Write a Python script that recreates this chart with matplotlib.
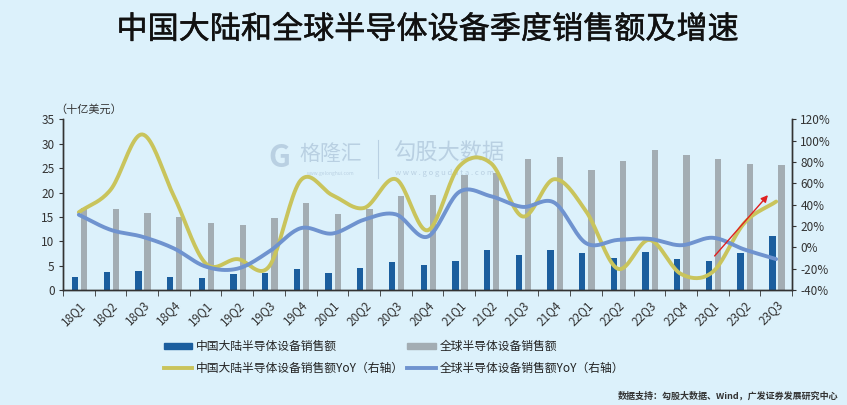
import matplotlib
matplotlib.use("Agg")
import matplotlib.pyplot as plt
import matplotlib.patheffects as pe
from matplotlib.patches import Patch
from matplotlib.lines import Line2D
import numpy as np

plt.rcParams['font.family'] = ['Noto Sans CJK SC', 'DejaVu Sans']

# data
quarters = ['18Q1', '18Q2', '18Q3', '18Q4', '19Q1', '19Q2', '19Q3', '19Q4',
            '20Q1', '20Q2', '20Q3', '20Q4', '21Q1', '21Q2', '21Q3', '21Q4',
            '22Q1', '22Q2', '22Q3', '22Q4', '23Q1', '23Q2', '23Q3']
china_sales = [2.7, 3.75, 3.96, 2.7, 2.4, 3.3, 3.42, 4.3, 3.42, 4.57, 5.67, 5.06,
               5.94, 8.2, 7.24, 8.13, 7.5, 6.5, 7.8, 6.35, 5.94, 7.5, 11.0]
global_sales = [16.9, 16.7, 15.9, 15.0, 13.8, 13.3, 14.8, 17.8, 15.6, 16.7, 19.3, 19.5,
                23.6, 24.1, 26.8, 27.3, 24.7, 26.4, 28.8, 27.7, 26.8, 25.8, 25.6]
china_yoy = [33, 54, 106, 48, -15, -11, -18, 63, 49, 37, 64, 16,
             76, 79, 29, 64, 34, -20, 7, -25, -23, 23, 43]
global_yoy = [30.6, 16.5, 10, -1, -18, -20, -4, 18, 13, 26, 31, 10,
              52, 48, 38, 42, 4, 7, 8, 2, 9, -2, -11]

left_ticks = [0, 5, 10, 15, 20, 25, 30, 35]
right_ticks = [-40, -20, 0, 20, 40, 60, 80, 100, 120]

# red trend arrow (start/end in category index, percent)
arrow_start = (20.0, -10)
arrow_end = (21.8, 51)

BG = '#dcf1fb'
C_CHINA = '#1b5e9e'
C_GLOBAL = '#a3adb3'
C_CHINA_YOY = '#c9c45c'
C_GLOBAL_YOY = '#6f93cf'


def smooth(xs, ys, n=20):
    # Catmull-Rom style smoothing, like the spreadsheet "smooth line"
    xs = np.asarray(xs, float)
    ys = np.asarray(ys, float)
    px = np.concatenate([[2 * xs[0] - xs[1]], xs, [2 * xs[-1] - xs[-2]]])
    py = np.concatenate([[2 * ys[0] - ys[1]], ys, [2 * ys[-1] - ys[-2]]])
    ox, oy = [], []
    t = np.linspace(0, 1, n, endpoint=False)
    for i in range(1, len(px) - 2):
        for p, out in ((px, ox), (py, oy)):
            p0, p1, p2, p3 = p[i - 1], p[i], p[i + 1], p[i + 2]
            out.extend(0.5 * ((2 * p1) + (-p0 + p2) * t +
                              (2 * p0 - 5 * p1 + 4 * p2 - p3) * t ** 2 +
                              (-p0 + 3 * p1 - 3 * p2 + p3) * t ** 3))
    ox.append(xs[-1])
    oy.append(ys[-1])
    return np.array(ox), np.array(oy)


fig = plt.figure(figsize=(8.47, 4.05), dpi=100, facecolor=BG)
ax = fig.add_axes([63 / 847, 1 - 290 / 405, (792 - 63) / 847, (290 - 119.5) / 405])
ax.set_facecolor('none')
ax2 = ax.twinx()
ax2.set_facecolor('none')

x = np.arange(len(quarters))
ax.bar(x - 0.12, china_sales, width=0.2, color=C_CHINA, zorder=2)
ax.bar(x + 0.17, global_sales, width=0.2, color=C_GLOBAL, zorder=2)

sx, sy = smooth(x, china_yoy)
ax2.plot(sx, sy, color=C_CHINA_YOY, lw=2.8, solid_capstyle='round', zorder=3)
sx, sy = smooth(x, global_yoy)
ax2.plot(sx, sy, color=C_GLOBAL_YOY, lw=2.8, solid_capstyle='round', zorder=3)

ax2.annotate('', xy=arrow_end, xytext=arrow_start,
             arrowprops=dict(arrowstyle='-|>', color='#e02020', lw=1.0,
                             mutation_scale=10))

ax.set_xlim(-0.5, len(quarters) - 0.5)
ax.set_ylim(0, 35)
ax2.set_ylim(-40, 120)
ax.set_yticks(left_ticks)
ax2.set_yticks(right_ticks)
ax2.set_yticklabels([f'{v}%' for v in right_ticks])

ax.set_xticks(x)
ax.set_xticklabels(quarters, rotation=45, ha='right', va='top', rotation_mode='anchor')
ax.set_xticks(np.arange(-0.5, len(quarters)), minor=True)
ax.tick_params(axis='x', which='major', length=0, pad=6, labelsize=8.5, colors='#333333')
ax.tick_params(axis='x', which='minor', length=4, color='#333333')
ax.tick_params(axis='y', length=3, labelsize=8.5, colors='#333333', pad=3)
ax2.tick_params(axis='y', length=3, labelsize=8.5, colors='#333333', pad=3)

for a in (ax, ax2):
    a.spines['top'].set_visible(False)
    for s in ('left', 'right', 'bottom'):
        a.spines[s].set_color('#333333')
        a.spines[s].set_linewidth(1.0)

# watermark
wm = '#b9d0e2'
ax.text(279 / 847, 1 - 158 / 405, 'G', transform=fig.transFigure, fontsize=22,
        fontweight='bold', color=wm, ha='center', va='center', zorder=0.5)
ax.text(331 / 847, 1 - 154 / 405, '格隆汇', transform=fig.transFigure, fontsize=15,
        color=wm, ha='center', va='center', zorder=0.5)
ax.text(331 / 847, 1 - 173 / 405, 'www.gelonghui.com', transform=fig.transFigure,
        fontsize=3.5, color=wm, ha='center', va='center', zorder=0.5)
ax.plot([378 / 847, 378 / 847], [1 - 140 / 405, 1 - 178 / 405], transform=fig.transFigure,
        color=wm, lw=0.8, zorder=0.5)
ax.text(393 / 847, 1 - 153 / 405, '勾股大数据', transform=fig.transFigure, fontsize=16,
        color=wm, ha='left', va='center', zorder=0.5)
ax.text(395 / 847, 1 - 173 / 405, 'w w w . g o g u d a t a . c o m', transform=fig.transFigure,
        fontsize=5.5, color=wm, ha='left', va='center', zorder=0.5)

fig.text(0.505, 0.926, '中国大陆和全球半导体设备季度销售额及增速', ha='center', va='center',
         fontsize=22.4, color='#111111',
         path_effects=[pe.withStroke(linewidth=0.35, foreground='#111111')])
fig.text(55 / 847, 1 - 109 / 405, '（十亿美元）', ha='left', va='center', fontsize=8,
         color='#333333')

handles = [Patch(color=C_CHINA), Patch(color=C_GLOBAL),
           Line2D([], [], color=C_CHINA_YOY, lw=2.8),
           Line2D([], [], color=C_GLOBAL_YOY, lw=2.8)]
labels = ['中国大陆半导体设备销售额', '全球半导体设备销售额',
          '中国大陆半导体设备销售额YoY（右轴）', '全球半导体设备销售额YoY（右轴）']
fig.legend([handles[0], handles[2], handles[1], handles[3]],
           [labels[0], labels[2], labels[1], labels[3]],
           ncol=2, loc='center left', bbox_to_anchor=(164 / 847, 1 - 357.5 / 405),
           frameon=False, fontsize=8.5, handlelength=2.4, handleheight=0.45,
           handletextpad=0.3, columnspacing=0.3, labelspacing=0.75,
           borderpad=0, borderaxespad=0, labelcolor='#222222')

fig.text(838 / 847, 1 - 396 / 405, '数据支持：勾股大数据、Wind，广发证券发展研究中心',
         ha='right', va='center', fontsize=6.5, fontweight='bold', color='#333333')

fig.savefig('out.png', dpi=100, facecolor=BG)
